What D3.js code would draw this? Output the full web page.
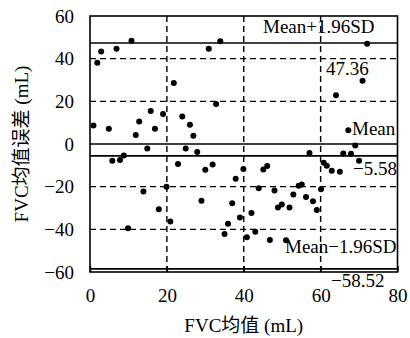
<!DOCTYPE html>
<html>
<head>
<meta charset="utf-8">
<script src="https://cdn.jsdelivr.net/npm/d3@7"></script>
<style>
  body { margin: 0; background: #fff; }
  svg text { font-family: "Liberation Serif", serif; fill: #000; }
  .cjk { font-family: "Liberation Serif", "Noto Sans CJK SC", serif; }
</style>
</head>
<body>
<svg id="chart"></svg>
<script>
// FVC mean (x) and FVC mean error (y)
const meanX = [1.9, 2.9, 6.9, 10.8, 30.9, 33.9, 21.8, 32.8, 0.9, 4.9, 11.9, 12.8, 15.8, 16.9, 19.0, 24.0, 26.0, 26.9,
  72.1, 70.9, 64.0, 67.2, 69.0,
  14.9, 24.9, 27.9, 5.8, 7.8, 8.8, 57.1, 65.9, 67.9, 70.0, 22.9, 30.0, 31.9, 39.9, 37.9, 45.1, 46.1, 60.8, 61.6, 62.9, 65.0,
  13.9, 19.9, 17.9, 20.9, 9.9, 43.9, 48.0, 29.0, 37.0, 42.0, 39.0, 35.9, 35.0, 40.8, 43.0, 46.8, 51.0,
  48.9, 49.9, 51.9, 52.9, 54.3, 55.1, 56.2, 58.0, 59.0, 60.1];
const errY = [38.1, 43.4, 44.7, 48.4, 44.7, 48.2, 28.6, 18.7, 8.7, 7.2, 4.2, 10.5, 15.5, 7.2, 14.1, 12.9, 9.0, 3.9,
  47.0, 29.7, 22.8, 6.4, -0.7,
  -2.1, -2.1, -3.7, -7.8, -7.5, -5.4, -4.2, -4.4, -4.6, -7.8, -9.4, -12.1, -9.6, -11.7, -16.3, -12.0, -10.3, -8.8, -10.2, -12.5, -13.0,
  -22.3, -20.0, -30.6, -36.3, -39.5, -20.8, -21.8, -26.6, -27.8, -32.3, -34.4, -37.4, -42.2, -43.7, -41.1, -45.0, -45.1,
  -29.8, -28.4, -29.8, -23.7, -19.6, -19.0, -24.8, -26.8, -30.9, -21.2];

const xTicks = [0, 20, 40, 60, 80];
const yTicks = [-60, -40, -20, 0, 20, 40, 60];
const solidY = [47.36, 0, -5.58, -58.52];
const dashedY = [40, 20, -20, -40];
const dashedX = [20, 40, 60];

const width = 410, height = 338;
const margin = {top: 16, right: 12.5, bottom: 66, left: 90};
const w = width - margin.left - margin.right;
const h = height - margin.top - margin.bottom;

const svg = d3.select('#chart')
    .attr('width', width)
    .attr('height', height);

const chart = svg.append('g')
    .attr('transform', `translate(${margin.left},${margin.top})`);

const x = d3.scaleLinear().domain([0, 80]).range([0, w]);
const y = d3.scaleLinear().domain([-60, 60]).range([h, 0]);

// reference lines
chart.selectAll('.dash-h')
    .data(dashedY)
  .join('line')
    .attr('x1', 0).attr('x2', w)
    .attr('y1', d => y(d)).attr('y2', d => y(d))
    .attr('stroke', '#000').attr('stroke-width', 1.4)
    .attr('stroke-dasharray', '6,4');

chart.selectAll('.dash-v')
    .data(dashedX)
  .join('line')
    .attr('x1', d => x(d)).attr('x2', d => x(d))
    .attr('y1', 0).attr('y2', h)
    .attr('stroke', '#000').attr('stroke-width', 1.4)
    .attr('stroke-dasharray', '6,4');

chart.selectAll('.solid-h')
    .data(solidY)
  .join('line')
    .attr('x1', 0).attr('x2', w)
    .attr('y1', d => y(d)).attr('y2', d => y(d))
    .attr('stroke', '#000').attr('stroke-width', 1.6);

// axes
const xAxis = d3.axisBottom(x).tickValues(xTicks).tickSize(-6).tickPadding(17).tickFormat(d3.format('d'));
const yAxis = d3.axisLeft(y).tickValues(yTicks).tickSize(0).tickPadding(16).tickFormat(d3.format('d'));

const xAxisG = chart.append('g')
    .attr('transform', `translate(0,${h})`)
    .call(xAxis);
const yAxisG = chart.append('g').call(yAxis);

[xAxisG, yAxisG].forEach(g => {
  g.select('.domain').remove();
  g.selectAll('line').attr('stroke', '#000').attr('stroke-width', 1.4);
  g.selectAll('text').attr('font-size', 19).attr('font-family', '"Liberation Serif", serif');
});

chart.append('rect')
    .attr('width', w).attr('height', h)
    .attr('fill', 'none').attr('stroke', '#000').attr('stroke-width', 1.6);

// points
chart.selectAll('.dot')
    .data(meanX.map((d, i) => [d, errY[i]]))
  .join('circle')
    .attr('cx', d => x(d[0]))
    .attr('cy', d => y(d[1]))
    .attr('r', 3)
    .attr('fill', '#000');

// annotations
const notes = [
  {t: 'Mean+1.96SD', x: 263, y: 33},
  {t: '47.36', x: 326, y: 75},
  {t: 'Mean', x: 352, y: 135},
  {t: '\u22125.58', x: 353, y: 175},
  {t: 'Mean\u22121.96SD', x: 285, y: 253},
  {t: '\u221258.52', x: 331, y: 287}
];
svg.selectAll('.note')
    .data(notes)
  .join('text')
    .attr('x', d => d.x).attr('y', d => d.y)
    .attr('font-size', 19)
    .text(d => d.t);

// axis titles
svg.append('text')
    .attr('class', 'cjk')
    .attr('x', margin.left + w / 2).attr('y', 332)
    .attr('text-anchor', 'middle')
    .attr('font-size', 19)
    .text('FVC均值 (mL)');

svg.append('text')
    .attr('class', 'cjk')
    .attr('transform', `translate(28,${margin.top + h / 2}) rotate(-90)`)
    .attr('text-anchor', 'middle')
    .attr('font-size', 19)
    .text('FVC均值误差 (mL)');
</script>
</body>
</html>
